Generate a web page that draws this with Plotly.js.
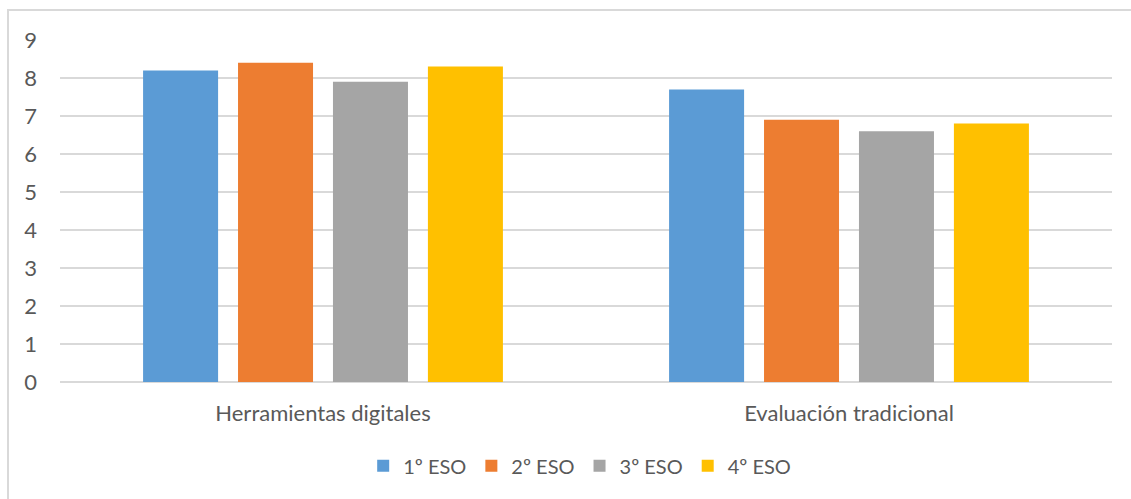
<!DOCTYPE html>
<html>
<head>
<meta charset="utf-8">
<script src="https://cdn.plot.ly/plotly-3.0.1.min.js"></script>
<style>
html,body{margin:0;padding:0;background:#fff;overflow:hidden;}
#frame{position:absolute;left:7px;top:9px;width:1140px;height:500px;border:2px solid #d9d9d9;box-sizing:border-box;}
#chart{position:absolute;left:0;top:0;width:1131px;height:499px;}
</style>
</head>
<body>
<div id="frame"></div>
<div id="chart"></div>
<script>
const categories = ["Herramientas digitales", "Evaluación tradicional"];
const seriesNames = ["1º ESO", "2º ESO", "3º ESO", "4º ESO"];
const eso1 = [8.2, 7.7];
const eso2 = [8.4, 6.9];
const eso3 = [7.9, 6.6];
const eso4 = [8.3, 6.8];
const colors = ["#5b9bd5", "#ed7d31", "#a5a5a5", "#ffc000"];
const values = [eso1, eso2, eso3, eso4];

const traces = values.map((v, i) => ({
  type: "bar",
  name: seriesNames[i],
  x: categories,
  y: v,
  marker: {color: colors[i]},
  hoverinfo: "none"
}));

const layout = {
  width: 1131, height: 499,
  paper_bgcolor: "rgba(0,0,0,0)",
  plot_bgcolor: "rgba(0,0,0,0)",
  margin: {l: 60, r: 19, t: 40, b: 117},
  barmode: "group",
  bargap: 0.278,
  bargroupgap: 0.21,
  font: {family: "Lato, Open Sans, sans-serif", size: 22, color: "#595959"},
  xaxis: {
    showline: false, showgrid: false, zeroline: false, ticks: "",
    tickfont: {size: 22, color: "#595959"}, ticklabelstandoff: 16
  },
  yaxis: {
    range: [0, 9], dtick: 1, showline: false, ticks: "",
    gridcolor: "#d9d9d9", gridwidth: 1.5,
    zeroline: true, zerolinecolor: "#d9d9d9", zerolinewidth: 1.5,
    tickfont: {size: 22, color: "#595959"}, ticklabelstandoff: 22
  },
  legend: {
    orientation: "h", x: 0.494, xanchor: "center", y: -0.245, yanchor: "middle",
    font: {size: 20, color: "#595959"}, itemwidth: 30, tracegroupgap: 0
  },
  showlegend: true
};

Plotly.newPlot("chart", traces, layout, {displayModeBar: false, staticPlot: true});
</script>
</body>
</html>
